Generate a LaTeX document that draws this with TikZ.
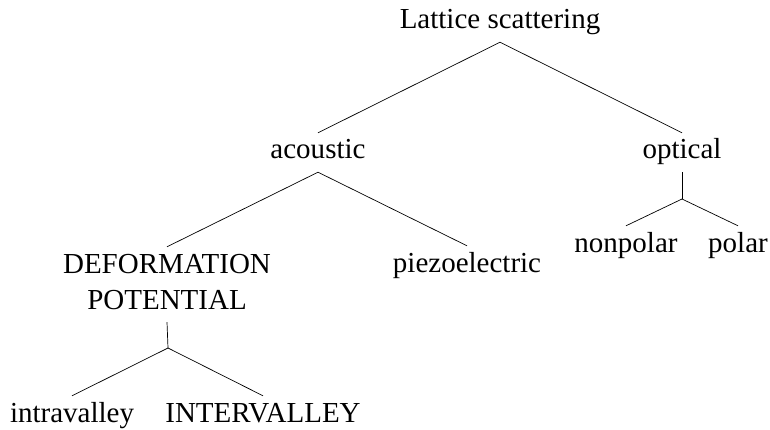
\documentclass[tikz,border=0pt]{standalone}
\usepackage{fontspec}
\setmainfont{Liberation Serif}
\begin{document}
\begin{tikzpicture}[x=1pt,y=-1pt,
  label/.style={anchor=base,inner sep=6pt,text height=20pt,text depth=7pt,
    font=\fontsize{29}{36}\selectfont,align=center},
  branch/.style={line width=0.7pt}]
\useasboundingbox (0,0) rectangle (770,430);
% tree labels
\node[label] (lat)   at (500,29)  {Lattice scattering};
\node[label] (aco)   at (318,159) {acoustic};
\node[label] (opt)   at (682,159) {optical};
% two-line label: its base is the last line, so the box height covers both lines
\node[label,text height=56pt] (def) at (167,309) {DEFORMATION\\POTENTIAL};
\node[label] (pie)   at (467,272) {piezoelectric};
\node[label] (nonp)  at (626,252) {nonpolar};
\node[label] (pol)   at (738,252) {polar};
\node[label] (intra) at (72,422)  {intravalley};
\node[label] (inter) at (263,422) {INTERVALLEY};
% fork points below the parents that have a stem
\coordinate (jopt) at (682,199);
\coordinate (jdef) at (168,348);
% branches
\draw[branch] (lat.south) -- (aco.north);
\draw[branch] (lat.south) -- (opt.north);
\draw[branch] (aco.south) -- (def.north);
\draw[branch] (aco.south) -- (pie.north);
\draw[branch] (opt.south) -- (jopt);
\draw[branch] (jopt) -- (nonp.north);
\draw[branch] (jopt) -- (pol.north);
\draw[branch] (def.south) -- (jdef);
\draw[branch] (jdef) -- (intra.north);
\draw[branch] (jdef) -- (inter.north);
\end{tikzpicture}
\end{document}
